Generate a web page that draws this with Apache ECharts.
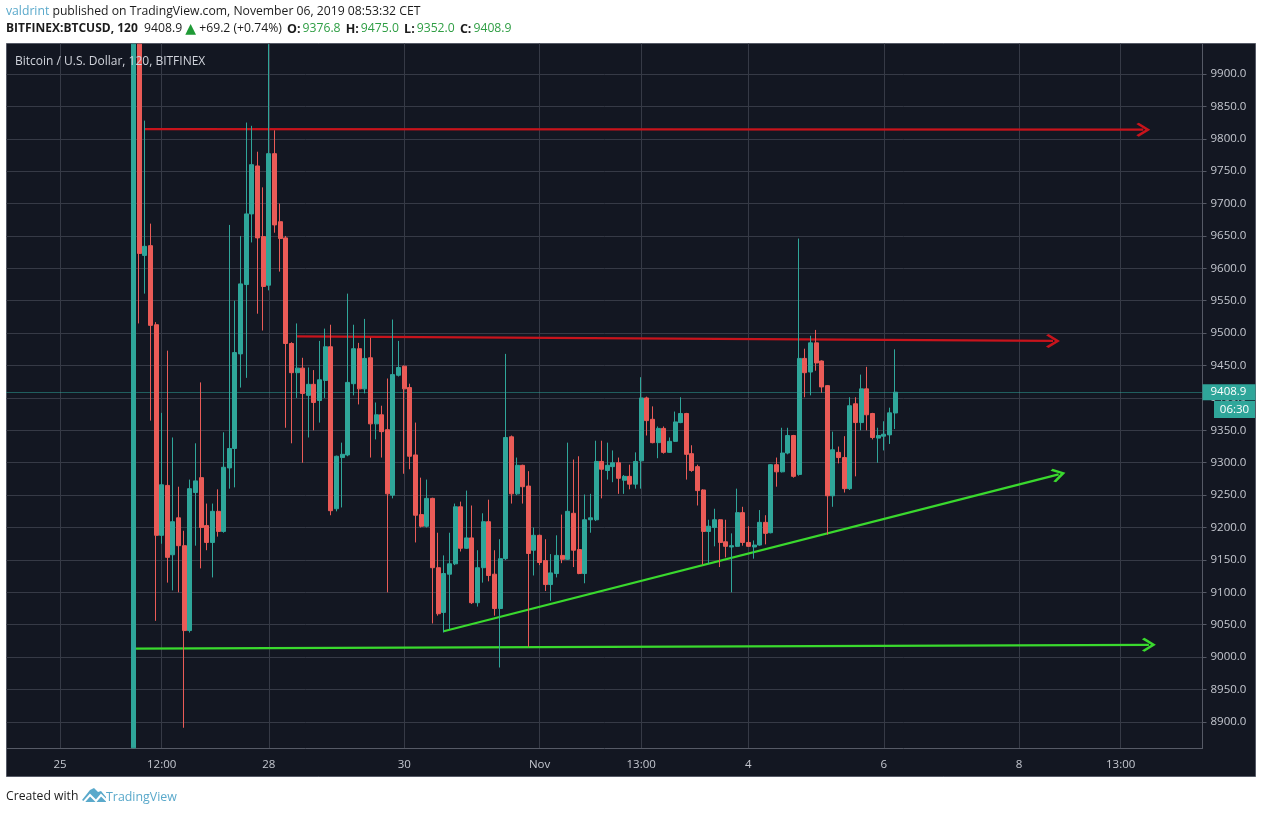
<!DOCTYPE html>
<html>
<head>
<meta charset="utf-8">
<title>BTCUSD 120</title>
<script src="https://cdn.jsdelivr.net/npm/echarts@6/dist/echarts.min.js"></script>
<style>
  html, body { margin: 0; padding: 0; background: #fff; }
  #chart { width: 1262px; height: 813px; }
</style>
</head>
<body>
<div id="chart"></div>
<script>
'use strict';

// 2h bars. First bars run off the top/bottom of the pane,
// so they stop at the edge of the visible range
var opens = [
  8860,9946,9620,9635,9513,9188,9265,9158,9215,9172,
  9041,9254,9277,9203,9177,9225,9194,9292,9322,9468,
  9575,9684,9758,9649,9574,9777,9672,9647,9484,9439,
  9446,9404,9421,9396,9427,9479,9229,9308,9312,9422,
  9476,9414,9462,9360,9374,9351,9250,9435,9449,9416,
  9312,9220,9202,9245,9138,9069,9128,9144,9232,9168,
  9184,9084,9138,9209,9128,9075,9152,9340,9252,9296,
  9264,9165,9188,9149,9112,9129,9157,9151,9222,9166,
  9129,9212,9212,9302,9288,9294,9300,9273,9279,9267,
  9303,9400,9367,9331,9353,9316,9333,9362,9376,9314,
  9294,9258,9194,9200,9212,9178,9170,9171,9223,9177,
  9170,9173,9208,9192,9297,9286,9315,9342,9282,9461,
  9440,9485,9457,9419,9249,9316,9308,9260,9391,9362,
  9414,9376,9338,9341,9343,9376.8
];
var closes = [
  9946,9623,9634,9512,9188,9266,9154,9209,9172,9041,
  9260,9272,9200,9177,9225,9194,9293,9322,9470,9576,
  9684,9760,9647,9572,9777,9667,9646,9484,9439,9446,
  9407,9421,9393,9428,9479,9226,9310,9313,9424,9476,
  9414,9461,9360,9374,9348,9252,9436,9447,9414,9310,
  9219,9202,9245,9138,9067,9129,9144,9232,9168,9184,
  9084,9138,9209,9126,9075,9152,9339,9252,9296,9263,
  9160,9188,9146,9112,9130,9157,9151,9225,9165,9129,
  9212,9215,9302,9290,9296,9300,9276,9279,9267,9302,
  9400,9365,9331,9353,9316,9333,9363,9376,9313,9288,
  9257,9194,9202,9212,9177,9171,9172,9223,9177,9171,
  9173,9208,9191,9297,9286,9315,9342,9279,9461,9439,
  9485,9454,9417,9249,9320,9308,9260,9388,9362,9414,
  9374,9339,9342,9344,9377,9408.9
];
var lows = [
  8860,9515,9561,9365,9056,9175,9115,9103,9100,8891,
  9038,9172,9137,9165,9123,9186,9192,9260,9262,9416,
  9431,9640,9530,9504,9566,9655,9595,9354,9330,9400,
  9300,9339,9350,9362,9400,9219,9225,9231,9310,9404,
  9390,9407,9308,9336,9308,9100,9245,9433,9283,9290,
  9177,9200,9200,9052,9064,9038,9043,9142,9163,9167,
  9082,9078,9115,9117,9064,8984,9150,9237,9250,9237,
  9016,9126,9142,9102,9087,9123,9145,9150,9139,9128,
  9114,9192,9210,9245,9274,9270,9252,9252,9259,9260,
  9260,9342,9330,9307,9314,9315,9332,9361,9274,9286,
  9234,9143,9144,9171,9139,9154,9100,9170,9172,9170,
  9152,9172,9174,9191,9263,9285,9313,9277,9280,9401,
  9404,9442,9408,9189,9232,9299,9254,9258,9279,9350,
  9350,9336,9300,9319,9329,9352
];
var highs = [
  9946,9946,9828,9669,9517,9377,9473,9339,9263,9195,
  9274,9330,9424,9237,9237,9259,9347,9667,9550,9650,
  9825,9820,9780,9725,9946,9813,9700,9650,9486,9515,
  9462,9447,9443,9488,9507,9513,9311,9331,9561,9513,
  9485,9522,9493,9393,9388,9430,9521,9488,9450,9422,
  9362,9277,9274,9246,9192,9157,9192,9237,9240,9257,
  9234,9165,9222,9243,9165,9182,9468,9342,9308,9297,
  9287,9200,9189,9182,9159,9188,9220,9331,9305,9310,
  9251,9252,9334,9334,9331,9319,9308,9281,9297,9316,
  9432,9402,9387,9356,9356,9339,9379,9401,9377,9327,
  9297,9259,9212,9229,9213,9212,9191,9260,9232,9202,
  9180,9227,9219,9298,9308,9354,9354,9343,9646,9476,
  9496,9505,9458,9420,9348,9325,9341,9401,9401,9436,
  9448,9377,9354,9364,9385,9475
];

var emptyBarsBefore = 22;
var slotCount = 212;

var timeLabels = ['25', '12:00', '28', '30', 'Nov', '13:00', '4', '6', '8', '13:00'];
var timeSlots = [9, 27, 46, 70, 94, 112, 131, 155, 179, 197];

var priceTicks = [8900, 8950, 9000, 9050, 9100, 9150, 9200, 9250, 9300, 9350, 9400,
  9450, 9500, 9550, 9600, 9650, 9700, 9750, 9800, 9850, 9900];
var priceMin = 8859;
var priceMax = 9947;
var lastPrice = 9408.9;

// drawn trend lines: [slot, price] -> [slot, price]
var redTop = [[24, 9815], [201, 9814]];
var redMiddle = [[51, 9495], [185, 9488]];
var greenRising = [[77, 9040], [186, 9282]];
var greenBottom = [[22, 9013], [202, 9019]];

var UP = '#2fa69a';
var DOWN = '#ea5b57';
var RED_LINE = '#c8141c';
var GREEN_LINE = '#3ad92e';
var GRID = '#363a46';
var BORDER = '#565a66';
var AXIS_TEXT = '#c5c8d0';
var FONT = '"Open Sans", sans-serif';

var chevron = 'path://M0,0 L10,9 L8,11 L0,3.8 L-8,11 L-10,9 Z';

var categories = [];
for (var s = 0; s < slotCount; s++) categories.push(String(s));

var candles = categories.map(function () { return '-'; });
opens.forEach(function (o, i) {
  candles[i + emptyBarsBefore] = [o, closes[i], lows[i], highs[i]];
});

function isTimeSlot(index) {
  return timeSlots.indexOf(index) !== -1;
}

function trendLine(points, color) {
  return [
    {coord: points[0], symbol: 'none', lineStyle: {color: color, width: 2.2, type: 'solid'}},
    {coord: points[1], symbol: chevron, symbolSize: 14, itemStyle: {color: color}}
  ];
}

var myChart = echarts.init(document.getElementById('chart'));

var option = {
  animation: false,
  backgroundColor: '#ffffff',
  textStyle: {fontFamily: FONT},
  title: [
    {
      left: 6, top: 6, padding: 0,
      text: '{user|valdrint} published on TradingView.com, November 06, 2019 08:53:32 CET',
      textStyle: {
        fontFamily: FONT, fontSize: 12.2, fontWeight: 'normal', color: '#1c1c1c',
        rich: {user: {color: '#5aa9cb', fontFamily: FONT, fontSize: 12.2}}
      }
    },
    {
      left: 6, top: 22, padding: 0,
      text: '{b|BITFINEX:BTCUSD, 120}  9408.9 {t|▲} +69.2 (+0.74%) {k|O:}{g|9376.8} {k|H:}{g|9475.0} {k|L:}{g|9352.0} {k|C:}{g|9408.9}',
      textStyle: {
        fontFamily: FONT, fontSize: 12.2, fontWeight: 'normal', color: '#1c1c1c',
        rich: {
          b: {fontWeight: 'bold', fontFamily: FONT, fontSize: 12, color: '#1c1c1c'},
          k: {fontWeight: 'bold', fontFamily: FONT, fontSize: 12.5, color: '#1c1c1c', padding: [0, 2, 0, 2]},
          g: {color: '#2f9e44', fontFamily: FONT, fontSize: 12.2},
          t: {color: '#1f9a36', fontFamily: '"DejaVu Sans", sans-serif', fontSize: 14}
        }
      }
    },
    {
      left: 15, top: 56, padding: 0,
      text: 'Bitcoin / U.S. Dollar, 120, BITFINEX',
      textStyle: {fontFamily: FONT, fontSize: 12, fontWeight: 'normal', color: '#d1d4dc'}
    },
    {
      left: 6, top: 791, padding: 0,
      text: 'Created with',
      textStyle: {fontFamily: FONT, fontSize: 12.2, fontWeight: 'normal', color: '#1c1c1c'}
    },
    {
      left: 106, top: 791, padding: 0,
      text: 'TradingView',
      textStyle: {fontFamily: FONT, fontSize: 12.4, fontWeight: 'normal', color: '#5aa9cb'}
    }
  ],
  graphic: [
    {
      type: 'rect', z: -10, silent: true,
      shape: {x: 6.5, y: 43.5, width: 1249, height: 733},
      style: {fill: '#131722', stroke: BORDER, lineWidth: 1}
    },
    {
      type: 'polygon', silent: true,
      shape: {points: [[82, 800], [90, 790], [94, 788], [98, 792], [101, 791], [106, 797], [106, 802], [85, 802]]},
      style: {fill: '#5aa9cb'}
    },
    {
      type: 'polyline', silent: true, z: 1,
      shape: {points: [[83, 803], [90, 795], [96, 801], [101, 795], [107, 801]]},
      style: {stroke: '#ffffff', fill: null, lineWidth: 2}
    },
    {
      type: 'rect', z: 20, silent: true,
      shape: {x: 1214, y: 401, width: 41, height: 17},
      style: {fill: UP}
    },
    {
      type: 'text', z: 21, silent: true,
      x: 1234.5, y: 409.5,
      style: {text: '06:30', fill: '#ffffff', font: '11.5px ' + FONT, align: 'center', verticalAlign: 'middle'}
    }
  ],
  grid: {left: 6.5, top: 43.5, width: 1196, height: 705, containLabel: false},
  xAxis: {
    type: 'category',
    data: categories,
    boundaryGap: true,
    axisLine: {lineStyle: {color: BORDER}},
    axisTick: {
      length: 4, alignWithLabel: true,
      lineStyle: {color: BORDER},
      interval: function (index) { return isTimeSlot(index); }
    },
    axisLabel: {
      color: AXIS_TEXT, fontSize: 11.5, fontFamily: FONT, margin: 10,
      interval: function (index) { return isTimeSlot(index); },
      formatter: function (value, index) {
        return timeLabels[timeSlots.indexOf(index)];
      }
    },
    splitLine: {
      show: true, alignWithLabel: true,
      lineStyle: {color: GRID},
      interval: function (index) { return isTimeSlot(index); }
    }
  },
  yAxis: {
    type: 'value',
    position: 'right',
    min: priceMin,
    max: priceMax,
    axisLine: {show: true, lineStyle: {color: BORDER}},
    axisTick: {show: true, length: 4, lineStyle: {color: BORDER}, customValues: priceTicks},
    axisLabel: {
      color: AXIS_TEXT, fontSize: 11.5, fontFamily: FONT, margin: 8,
      customValues: priceTicks,
      formatter: function (value) { return value.toFixed(1); }
    },
    splitLine: {show: true, lineStyle: {color: GRID}}
  },
  series: [
    {
      type: 'candlestick',
      data: candles,
      barWidth: 4.5,
      z: 5,
      itemStyle: {
        color: UP, color0: DOWN,
        borderColor: UP, borderColor0: DOWN,
        borderWidth: 1
      },
      markLine: {
        silent: true,
        animation: false,
        precision: 4,
        symbol: 'none',
        label: {show: false},
        data: [
          {
            yAxis: lastPrice,
            lineStyle: {color: UP, type: 'dotted', width: 1},
            label: {
              show: true, position: 'end', distance: 0,
              formatter: lastPrice.toFixed(1),
              color: '#fff', fontSize: 11.5, fontFamily: FONT,
              backgroundColor: UP, width: 45, height: 16, lineHeight: 16,
              padding: [0, 0, 0, 8], align: 'left', verticalAlign: 'middle'
            }
          },
          trendLine(redTop, RED_LINE),
          trendLine(redMiddle, RED_LINE),
          trendLine(greenRising, GREEN_LINE),
          trendLine(greenBottom, GREEN_LINE)
        ]
      }
    }
  ]
};

myChart.setOption(option);
</script>
</body>
</html>
